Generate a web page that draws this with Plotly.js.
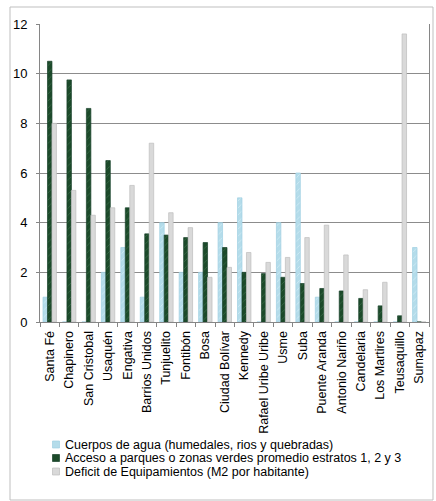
<!DOCTYPE html>
<html>
<head>
<meta charset="utf-8">
<script src="https://cdn.plot.ly/plotly-3.0.1.min.js"></script>
<style>
  html, body { margin: 0; padding: 0; background: #ffffff; }
  #chart { width: 436px; height: 501px; }
</style>
</head>
<body>
<div id="chart"></div>
<script>
// Localidades de Bogotá
const localidades = [
  "Santa Fé", "Chapinero", "San Cristobal", "Usaquén", "Engativa",
  "Barrios Unidos", "Tunjuelito", "Fontibón", "Bosa", "Ciudad Bolívar",
  "Kennedy", "Rafael Uribe Uribe", "Usme", "Suba", "Puente Aranda",
  "Antonio Nariño", "Candelaria", "Los Martires", "Teusaquillo", "Sumapaz"
];

// Cuerpos de agua (humedales, rios y quebradas)
const cuerposAgua = [1, 0, 0, 2, 3, 1, 4, 2, 2, 4, 5, 0, 4, 6, 1, 0, 0, 0, 0, 3];

// Acceso a parques o zonas verdes promedio estratos 1, 2 y 3
const accesoParques = [10.5, 9.75, 8.6, 6.5, 4.6, 3.55, 3.5, 3.4, 3.2, 3.0,
                       2.0, 1.95, 1.8, 1.55, 1.35, 1.25, 0.95, 0.65, 0.25, 0];

// Deficit de Equipamientos (M2 por habitante)
const deficitEquip = [8, 5.3, 4.3, 4.6, 5.5, 7.2, 4.4, 3.8, 1.8, 2.2,
                      2.8, 2.4, 2.6, 3.4, 3.9, 2.7, 1.3, 1.6, 11.6, 0];

const seriesNames = [
  "Cuerpos de agua (humedales, rios y quebradas)",
  "Acceso a parques o zonas verdes promedio estratos 1, 2 y 3",
  "Deficit de Equipamientos (M2 por habitante)"
];

const yTicks = [0, 2, 4, 6, 8, 10, 12];

const fontFamily = "Liberation Sans, Arial, sans-serif";

const fills = ["#b4dcea", "#1c4a2a", "#d9d9d9"];
const edges = ["#9fd0e2", "#17402a", "#bdbdbd"];
const stripes = ["#d2ecf5", "#3a6b48", null];

const seriesValues = [cuerposAgua, accesoParques, deficitEquip];

const traces = seriesValues.map((vals, i) => {
  const marker = { color: fills[i], line: { color: edges[i], width: 0.7 } };
  if (stripes[i]) {
    marker.pattern = { shape: "/", fgcolor: stripes[i], bgcolor: fills[i], size: 5, solidity: 0.15, fillmode: "replace" };
  }
  return { type: "bar", name: seriesNames[i], x: localidades, y: vals, marker: marker, showlegend: false };
});

// Plot area: 40..429 px horizontally, 24..322 px vertically
const plotL = 40, plotR = 429, plotT = 24, plotB = 322, W = 436, H = 501;
const px = v => (v - plotL) / (plotR - plotL);
const py = v => (plotB - v) / (plotB - plotT);

// Compact legend rows underneath the axis labels
const legendRowY = [444.5, 458, 471.5];
const legendAnnotations = seriesNames.map((name, i) => ({
  xref: "paper", yref: "paper",
  x: px(63), y: py(legendRowY[i]),
  xanchor: "left", yanchor: "middle",
  text: name, showarrow: false,
  font: { family: fontFamily, size: 12.5, color: "#000000" }
}));
const legendSwatches = seriesNames.map((name, i) => ({
  type: "rect", xref: "paper", yref: "paper",
  x0: px(52.5), x1: px(59.5),
  y0: py(legendRowY[i] + 3.5), y1: py(legendRowY[i] - 3.5),
  fillcolor: fills[i], line: { color: edges[i], width: 0.7 }
}));

const layout = {
  width: W,
  height: H,
  margin: { l: plotL, r: W - plotR, t: plotT, b: H - plotB, pad: 0 },
  paper_bgcolor: "#ffffff",
  plot_bgcolor: "#ffffff",
  font: { family: fontFamily, size: 12.5, color: "#000000" },
  barmode: "group",
  bargap: 0.31,
  bargroupgap: 0,
  showlegend: false,
  xaxis: {
    type: "category",
    tickangle: -90,
    tickfont: { family: fontFamily, size: 12.5, color: "#000000" },
    ticks: "outside",
    tickson: "boundaries",
    ticklen: 4,
    tickcolor: "#868686",
    ticklabelstandoff: 3,
    showline: true,
    linecolor: "#868686",
    linewidth: 1,
    showgrid: false,
    zeroline: false,
    fixedrange: true
  },
  yaxis: {
    range: [0, 12],
    tickvals: yTicks,
    ticktext: yTicks.map(String),
    tickfont: { family: fontFamily, size: 13, color: "#000000" },
    ticks: "outside",
    ticklen: 3,
    tickcolor: "#868686",
    ticklabelstandoff: 6,
    showline: true,
    mirror: true,
    linecolor: "#868686",
    linewidth: 1,
    showgrid: true,
    gridcolor: "#8c8c8c",
    gridwidth: 1,
    zeroline: false,
    fixedrange: true
  },
  annotations: legendAnnotations,
  shapes: [
    {
      // outer chart frame
      type: "rect", xref: "paper", yref: "paper",
      x0: px(10), x1: px(433), y0: py(500), y1: py(7),
      line: { color: "#bfbfbf", width: 1 },
      fillcolor: "rgba(0,0,0,0)",
      layer: "below"
    }
  ].concat(legendSwatches)
};

Plotly.newPlot("chart", traces, layout, { displayModeBar: false, staticPlot: true });
</script>
</body>
</html>
